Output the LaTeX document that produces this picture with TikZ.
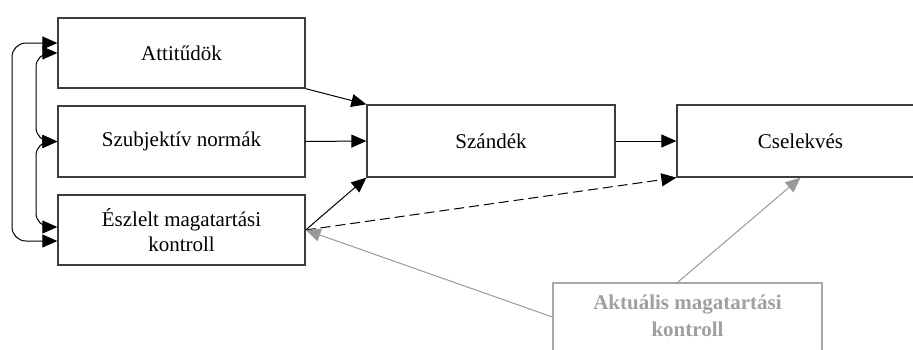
\documentclass[tikz,border=0pt]{standalone}
\usepackage{fontspec}
\setmainfont{Liberation Serif}
\usetikzlibrary{arrows.meta}
\definecolor{boxline}{HTML}{3C3C3C}
\definecolor{grayline}{HTML}{A8A8A8}
\definecolor{graytext}{HTML}{A0A0A0}
\definecolor{grayarrow}{HTML}{999999}
\tikzset{
  x=1pt, y=-1pt,
  tip/.style={Triangle[length=15pt,width=13pt]},
  box/.style={draw=boxline, line width=1.3pt, fill=white, inner sep=0pt, align=center,
    font=\fontsize{21}{25}\selectfont},
  graybox/.style={draw=grayline, line width=1.2pt, fill=white, inner sep=0pt},
  graylabel/.style={text=graytext, font=\fontsize{21}{27}\selectfont\bfseries, align=center, inner sep=0pt},
  arr/.style={draw=black, line width=1pt, -{Triangle[length=15pt,width=13pt]}},
  biarr/.style={draw=black, line width=1pt, {Triangle[length=15pt,width=13pt]}-{Triangle[length=15pt,width=13pt]}, rounded corners=14pt},
  dasharr/.style={arr, dash pattern=on 10pt off 5pt},
  grayarr/.style={draw=grayarrow, line width=1pt, -{Triangle[length=15pt,width=13pt]}},
}
\begin{document}
\begin{tikzpicture}
\useasboundingbox (0,0) rectangle (913,349);
\clip (0,0) rectangle (913,349);
\node[box, minimum width=247pt, minimum height=70pt] (A) at (181.5,53) {Attitűdök};
\node[box, minimum width=247pt, minimum height=71pt] (S) at (181.5,141.5) {Szubjektív normák};
\node[box, minimum width=247pt, minimum height=70pt] (E) at (181.5,230) {Észlelt magatartási\\kontroll};
\node[box, minimum width=248pt, minimum height=72pt] (Sz) at (491,141) {Szándék};
\node[box, minimum width=247pt, minimum height=72pt] (C) at (800.5,141) {Cselekvés};
\node[graybox, minimum width=269pt, minimum height=77pt] (Ak) at (687.5,321.5) {};
\node[graylabel] (AkT) at (687.5,316) {Aktuális magatartási\\kontroll};

\draw[arr] (A.south east) -- (Sz.north west);
\draw[arr] (S.east) -- (Sz.west);
\draw[arr] (E.east) -- (Sz.south west);
\draw[arr] (Sz.east) -- (C.west);
\draw[dasharr] (E.east) -- (C.south west);
\draw[grayarr] ([xshift=-10pt]Ak.north) -- (C.south);
\draw[grayarr] ([yshift=4.5pt]Ak.west) -- (E.east);

\draw[biarr] ([yshift=10pt]A.west) -| (12,142) |- ([yshift=-11pt]E.west);
\draw[biarr] (A.west) -| (36,96) |- (S.west);
\draw[biarr] (S.west) -| (36,185) |- ([yshift=3pt]E.west);
\end{tikzpicture}
\end{document}
